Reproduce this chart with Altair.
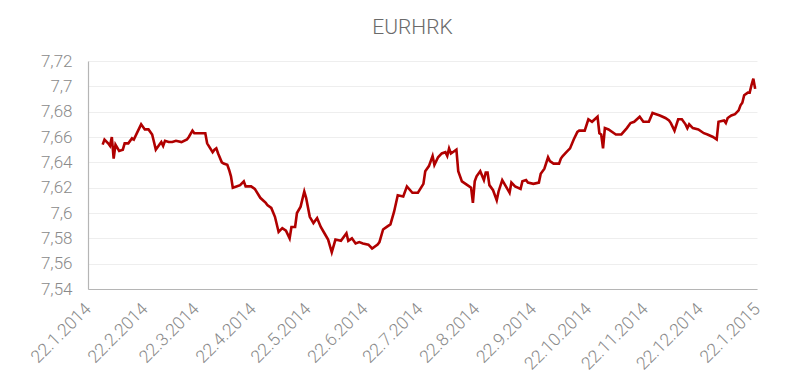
import altair as alt
import pandas as pd

# Days after 22.1.2014 and EUR/HRK rate
day_offsets = [8, 9, 11, 12, 13, 14, 15, 17, 19, 20, 22, 24, 25, 27, 29, 31, 33, 35, 36, 37,
               39, 40, 41, 42, 44, 46, 48, 51, 54, 55, 57, 58, 64, 65, 68, 69, 70, 71, 73, 74,
               76, 77, 78, 79, 81, 83, 85, 86, 89, 91, 94, 97, 98, 100, 102, 104, 106, 108, 110, 111,
               113, 114, 116, 118, 119, 121, 123, 125, 127, 129, 131, 133, 135, 138, 141, 142, 144, 146, 148, 150,
               153, 155, 158, 159, 161, 163, 165, 167, 169, 172, 174, 177, 180, 183, 184, 186, 188, 189, 191, 193,
               195, 196, 197, 198, 199, 201, 202, 204, 208, 209, 210, 211, 212, 214, 216, 217, 218, 219, 221, 223,
               224, 226, 228, 230, 231, 233, 236, 237, 239, 240, 243, 246, 247, 249, 251, 252, 254, 257, 258, 259,
               261, 263, 265, 267, 268, 271, 273, 275, 278, 279, 280, 281, 282, 284, 287, 288, 291, 294, 296, 298,
               301, 303, 306, 308, 310, 312, 315, 317, 318, 320, 322, 324, 326, 327, 328, 330, 333, 336, 338, 341,
               343, 344, 347, 348, 349, 351, 353, 355, 356, 357, 358, 360, 361, 362, 363, 364]

rates = [7.654, 7.658, 7.655, 7.653, 7.660, 7.643, 7.654, 7.649, 7.650, 7.655, 7.655, 7.659, 7.658, 7.664, 7.670, 7.666, 7.666, 7.662, 7.656, 7.650,
         7.654, 7.656, 7.653, 7.657, 7.656, 7.656, 7.657, 7.656, 7.658, 7.660, 7.665, 7.663, 7.663, 7.655, 7.648, 7.650, 7.651, 7.647, 7.640, 7.639,
         7.638, 7.634, 7.629, 7.620, 7.621, 7.622, 7.625, 7.621, 7.621, 7.619, 7.612, 7.608, 7.606, 7.604, 7.597, 7.585, 7.588, 7.586, 7.580, 7.589,
         7.589, 7.600, 7.605, 7.617, 7.612, 7.597, 7.592, 7.596, 7.589, 7.584, 7.579, 7.569, 7.579, 7.578, 7.584, 7.578, 7.580, 7.576, 7.577, 7.576,
         7.575, 7.572, 7.575, 7.577, 7.587, 7.589, 7.591, 7.601, 7.614, 7.613, 7.621, 7.616, 7.616, 7.623, 7.633, 7.637, 7.645, 7.638, 7.644, 7.647,
         7.648, 7.645, 7.651, 7.647, 7.648, 7.650, 7.633, 7.625, 7.621, 7.620, 7.608, 7.625, 7.629, 7.633, 7.626, 7.632, 7.632, 7.622, 7.618, 7.610,
         7.617, 7.626, 7.621, 7.616, 7.624, 7.621, 7.619, 7.625, 7.626, 7.624, 7.623, 7.624, 7.631, 7.635, 7.644, 7.641, 7.639, 7.639, 7.643, 7.645,
         7.648, 7.651, 7.658, 7.664, 7.665, 7.665, 7.674, 7.672, 7.676, 7.663, 7.662, 7.651, 7.667, 7.666, 7.663, 7.662, 7.662, 7.667, 7.671, 7.672,
         7.676, 7.672, 7.672, 7.679, 7.678, 7.677, 7.675, 7.673, 7.671, 7.665, 7.674, 7.674, 7.670, 7.667, 7.670, 7.667, 7.666, 7.663, 7.662, 7.660,
         7.658, 7.672, 7.673, 7.671, 7.675, 7.677, 7.678, 7.681, 7.685, 7.687, 7.693, 7.695, 7.695, 7.701, 7.706, 7.698]

tick_dates = ["2014-01-22", "2014-02-22", "2014-03-22", "2014-04-22", "2014-05-22", "2014-06-22",
              "2014-07-22", "2014-08-22", "2014-09-22", "2014-10-22", "2014-11-22", "2014-12-22",
              "2015-01-22"]
y_ticks = [7.54, 7.56, 7.58, 7.60, 7.62, 7.64, 7.66, 7.68, 7.70, 7.72]

start = pd.Timestamp("2014-01-22")
df = pd.DataFrame({
    "date": [(start + pd.Timedelta(days=d)).strftime("%Y-%m-%d") for d in day_offsets],
    "rate": rates,
})


def to_dt(s):
    y, m, d = (int(p) for p in s.split("-"))
    return alt.DateTime(year=y, month=m, date=d, utc=True)


tick_dt = [to_dt(s) for s in tick_dates]

font = "Roboto"

chart = alt.Chart(df).mark_line(color="#b00000", strokeWidth=2.6).encode(
    x=alt.X(
        "date:T",
        title=None,
        scale=alt.Scale(type="utc", domain=[tick_dt[0], tick_dt[-1]]),
        axis=alt.Axis(
            values=tick_dt,
            labelExpr="utcFormat(datum.value, '%-d.%-m.%Y')",
            labelAngle=315,
            labelAlign="right",
            labelBaseline="middle",
            labelPadding=17,
            labelFontSize=17.5,
            labelFont=font,
            labelFontWeight=300,
            labelColor="#8a8a8a",
            grid=False,
            ticks=False,
            domainColor="#b5b5b5",
            domainWidth=1.2,
            labelOverlap=False,
            labelFlush=False,
        ),
    ),
    y=alt.Y(
        "rate:Q",
        title=None,
        scale=alt.Scale(domain=[7.54, 7.72], nice=False, zero=False),
        axis=alt.Axis(
            values=y_ticks,
            labelExpr="replace(format(datum.value, '.2~f'), '.', ',')",
            labelFontSize=17,
            labelFont=font,
            labelFontWeight=300,
            labelColor="#8a8a8a",
            labelPadding=16,
            grid=True,
            gridColor="#eeeeee",
            gridWidth=1,
            ticks=False,
            domainColor="#b5b5b5",
            domainWidth=1.2,
            labelOverlap=False,
        ),
    ),
).properties(
    width=669,
    height=228,
    title=alt.TitleParams(
        "EURHRK",
        font=font,
        fontSize=21,
        fontWeight=300,
        color="#6a6a6a",
        anchor="middle",
        dx=-10,
        offset=14,
    ),
    autosize=alt.AutoSizeParams(type="none"),
    padding={"left": 80, "top": 53, "right": 30, "bottom": 94},
).configure_view(stroke=None)

chart.save("out.html", embed_options={"renderer": "svg", "actions": False})
